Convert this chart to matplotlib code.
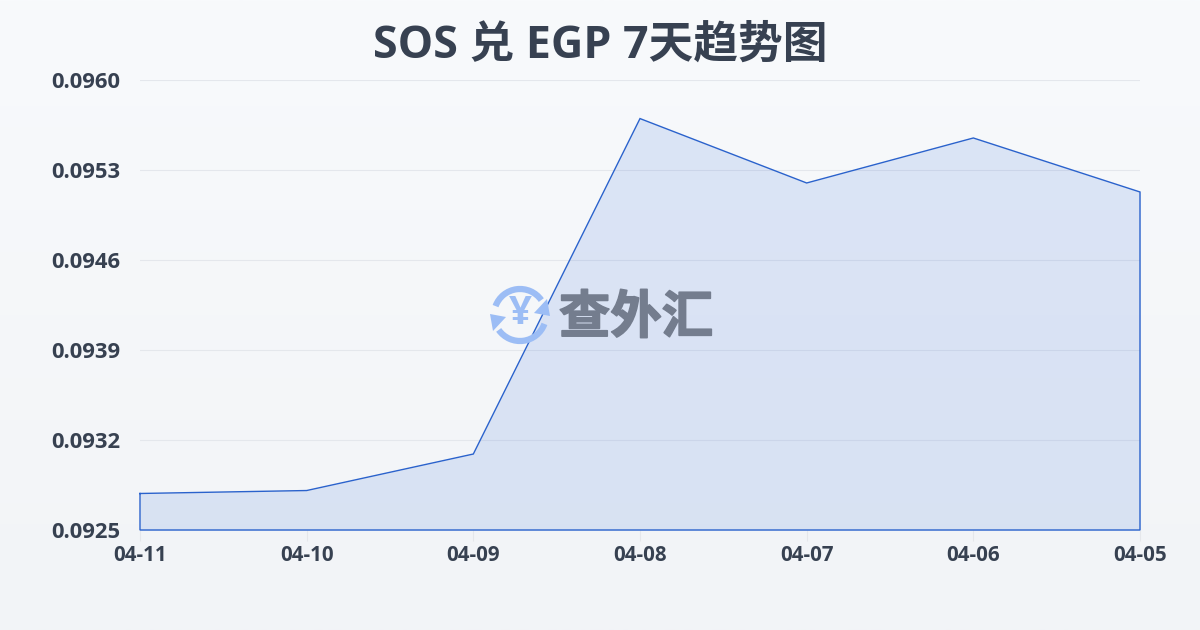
import numpy as np
import matplotlib
matplotlib.use('Agg')
import matplotlib.pyplot as plt
import matplotlib.patheffects as pe
from matplotlib.patches import Arc, Polygon

dates = ['04-11', '04-10', '04-09', '04-08', '04-07', '04-06', '04-05']
rates = [0.092784, 0.092807, 0.093091, 0.095700, 0.095199, 0.095549, 0.095129]
yticks = [0.0925, 0.0932, 0.0939, 0.0946, 0.0953, 0.0960]
title = 'SOS 兑 EGP 7天趋势图'
watermark = '查外汇'

plt.rcParams['font.family'] = ['Open Sans', 'Noto Sans CJK SC', 'DejaVu Sans']
W, H = 1200, 630
fig = plt.figure(figsize=(W/100, H/100), dpi=100)

bg = fig.add_axes([0, 0, 1, 1], zorder=0)
bg.axis('off')
grad = np.linspace(0, 1, 256)[:, None, None]
top = np.array([0xf8, 0xfa, 0xfc])/255
bot = np.array([0xf2, 0xf4, 0xf7])/255
bg.imshow(top + (bot-top)*grad, aspect='auto', extent=[0, 1, 0, 1])

ax = fig.add_axes([140/W, 1-530/H, 1000/W, 450/H], zorder=1)
ax.patch.set_alpha(0)
x = np.arange(len(dates))
ax.set_xlim(0, len(dates)-1)
ax.set_ylim(0.0925, 0.0960)
ax.fill_between(x, rates, 0.0925, color='#2563d8', alpha=0.13, lw=0, zorder=2)
ax.plot(list(x)+[x[-1], x[0], x[0]], rates+[0.0925, 0.0925, rates[0]],
        color='#2a62cc', lw=1.0, zorder=4, clip_on=False, solid_joinstyle='miter')
ax.set_yticks(yticks)
ax.set_yticklabels([f'{v:.4f}' for v in yticks], fontsize=15.8, fontweight='bold', color='#374151')
ax.set_xticks(x)
ax.set_xticklabels(dates, fontsize=14.8, fontweight='bold', color='#374151')
ax.tick_params(axis='y', length=0, pad=14)
ax.tick_params(axis='x', length=8, width=0.8, color='#e5e7eb', pad=2.5)
ax.grid(axis='y', color='#e4e7ec', lw=0.8, zorder=1)
ax.set_axisbelow(True)
for s in ax.spines.values():
    s.set_visible(False)

fig.text(600/W, 1-46/H, title, ha='center', va='center', fontsize=32.2, fontweight='bold', color='#374151', zorder=5)

# watermark overlay in pixel coordinates
ov = fig.add_axes([0, 0, 1, 1], zorder=3)
ov.set_xlim(0, W); ov.set_ylim(H, 0); ov.axis('off'); ov.patch.set_alpha(0)
blue = '#9cbdf5'
cx, cy = 520, 315
ov.add_patch(Arc((cx, cy), 52, 52, theta1=200, theta2=325, color=blue, lw=4.5))
ov.add_patch(Arc((cx, cy), 52, 52, theta1=20, theta2=145, color=blue, lw=4.5))
ov.add_patch(Polygon([[490, 314], [506, 317], [493, 331]], closed=True, color=blue, lw=0))
ov.add_patch(Polygon([[550, 316], [534, 313], [547, 299]], closed=True, color=blue, lw=0))
ov.text(cx, cy-1, '¥', ha='center', va='center', fontsize=29, fontweight='bold', color=blue)
ov.text(636, 320, watermark, ha='center', va='center', fontsize=37, fontweight='bold', color='#747d8e',
        path_effects=[pe.withStroke(linewidth=1.2, foreground='#747d8e')])

fig.savefig('out.png', dpi=100)
